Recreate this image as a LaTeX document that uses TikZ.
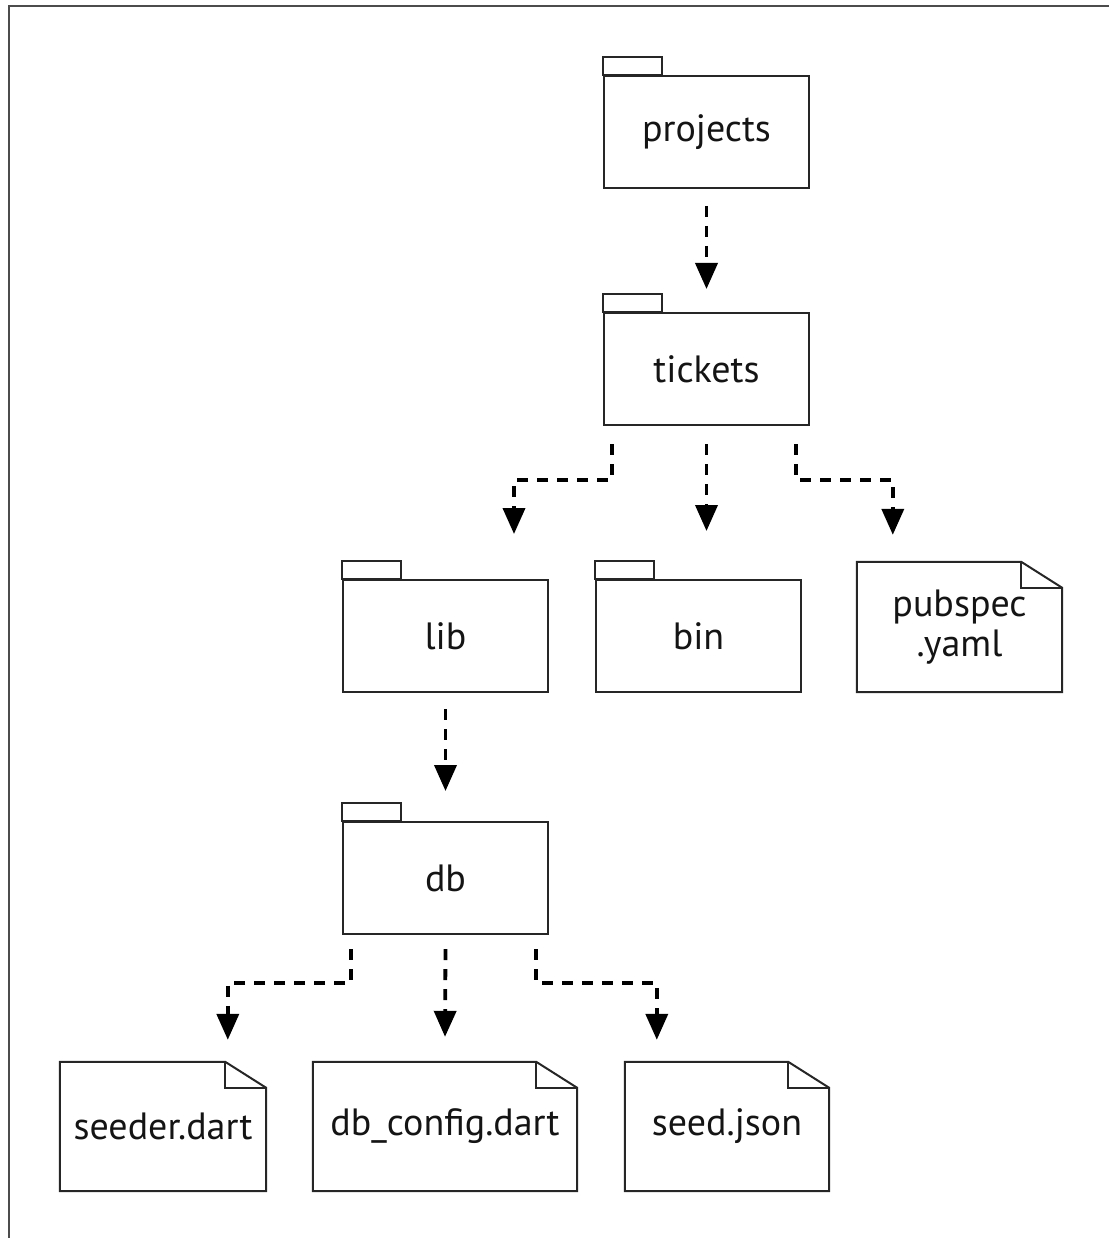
\documentclass[tikz,border=0pt]{standalone}
\usepackage{fontspec}
\setmainfont{PT Sans}
\usetikzlibrary{arrows.meta,calc}
\begin{document}
\begin{tikzpicture}[x=1pt,y=-1pt,
  txt/.style={font=\fontsize{38}{40}\selectfont, text=black!92, align=center, inner sep=0pt},
  folder/.style={txt, draw=black!85, line width=2pt, minimum width=205pt, minimum height=112pt},
  file/.style={txt, minimum height=129pt},
  outline/.style={draw=black!85, line width=2pt, line join=miter},
  conn/.style={line width=3.8pt, dash pattern=on 11pt off 9pt, -{Triangle[length=26pt,width=22pt]}},
  frame/.style={draw=black!70, line width=2.5pt}]
\useasboundingbox (0,0) rectangle (1108,1238);
\draw[frame] (9,6) rectangle (1140,1270);

% folders
\node[folder] (projects) at (706.5,132) {projects};
\node[folder] (tickets) at (706.5,369) {tickets};
\node[folder] (lib) at (445.5,636) {lib};
\node[folder] (bin) at (698.5,636) {bin};
\node[folder] (db) at (445.5,878) {db};
\foreach \n in {projects,tickets,lib,bin,db}
  \draw[outline] (\n.north west) rectangle ++(59,-18);

% files
\node[file, minimum width=205pt, minimum height=130pt] (pubspec) at (959.5,627) {pubspec\\.yaml};
\node[file, minimum width=206pt] (seeder) at (163,1126.5) {seeder.dart};
\node[file, minimum width=264pt] (dbconfig) at (445,1126.5) {db\_config.dart};
\node[file, minimum width=204pt] (seed) at (727,1126.5) {seed.json};
\foreach \n in {pubspec,seeder,dbconfig,seed} {
  \draw[outline] (\n.south west) -- (\n.north west) -- ([xshift=-41pt]\n.north east)
    -- ([yshift=-26pt]\n.north east) -- (\n.south east) -- cycle;
  \draw[outline] ([xshift=-41pt]\n.north east) |- ([yshift=-26pt]\n.north east);
}

% connectors
\draw[conn] ($(projects.south)+(0,17)$) -- ($(tickets.north)+(0,-23)$);
\draw[conn] ($(tickets.south west)+(9,18)$) -- ++(0,36) -| ($(lib.north west)+(172,-45)$);
\draw[conn] ($(tickets.south)+(0,18)$) -- ($(bin.north -| tickets.south)+(0,-48)$);
\draw[conn] ($(tickets.south east)+(-14,18)$) -- ++(0,36) -| ($(pubspec.north west)+(36,-27)$);
\draw[conn] ($(lib.south)+(0,16)$) -- ($(db.north)+(0,-30)$);
\draw[conn] ($(db.south west)+(9,14)$) -- ++(0,34) -| ($(seeder.north west)+(168,-22)$);
\draw[conn] ($(db.south)+(0,14)$) -- ($(dbconfig.north)+(0,-25)$);
\draw[conn] ($(db.south east)+(-13,14)$) -- ++(0,34) -| ($(seed.north west)+(32,-22)$);
\end{tikzpicture}
\end{document}
